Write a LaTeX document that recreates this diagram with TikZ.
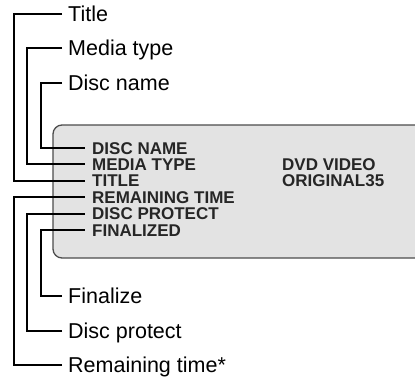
\documentclass[tikz,border=0pt]{standalone}
\usepackage{fontspec}
\setmainfont{Liberation Sans}
\usetikzlibrary{positioning}

\begin{document}
\begin{tikzpicture}[
    x=1pt, y=-1pt,
    callout/.style={anchor=west, inner xsep=6pt, inner ysep=0pt, font=\fontsize{21.5}{25}\selectfont, text height=15.4pt, text depth=0pt},
    menuitem/.style={anchor=west, inner xsep=7pt, inner ysep=0pt, font=\fontsize{17}{20}\selectfont\bfseries, text height=12.2pt, text depth=0pt, text=black!85},
    lead/.style={line width=2pt, black},
    screen/.style={draw=black!70, line width=1.3pt, fill=gray!22, rounded corners=9pt}
]

\useasboundingbox (0,0) rectangle (415,381);

% === Display screen ===
\draw[screen] (53,125) rectangle (430,258);

% === Menu entries on screen ===
\node[menuitem] (dName) at (85,148) {DISC NAME};
\node[menuitem] (dMedia) at (85,164.4) {MEDIA TYPE};
\node[menuitem] (dTitle) at (85,180.8) {TITLE};
\node[menuitem] (dRemain) at (85,197.2) {REMAINING TIME};
\node[menuitem] (dProtect) at (85,213.6) {DISC PROTECT};
\node[menuitem] (dFinal) at (85,230) {FINALIZED};

\node[menuitem, inner xsep=0pt] (vMedia) at (282,164.4) {DVD VIDEO};
\node[menuitem, inner xsep=0pt] (vTitle) at (282,180.8) {ORIGINAL35};

% === Callouts ===
\node[callout] (lTitle) at (62,14) {Title};
\node[callout] (lMedia) at (62,48) {Media type};
\node[callout] (lName) at (62,83) {Disc name};
\node[callout] (lFinal) at (62,296) {Finalize};
\node[callout] (lProtect) at (62,331) {Disc protect};
\node[callout] (lRemain) at (62,365) {Remaining time*};

% === Leader lines ===
\draw[lead] (lTitle.west) -- ++(-48,0) |- (dTitle.west);
\draw[lead] (lMedia.west) -- ++(-35,0) |- (dMedia.west);
\draw[lead] (lName.west) -- ++(-21,0) |- (dName.west);
\draw[lead] (lRemain.west) -- ++(-48,0) |- (dRemain.west);
\draw[lead] (lProtect.west) -- ++(-35,0) |- (dProtect.west);
\draw[lead] (lFinal.west) -- ++(-21,0) |- (dFinal.west);

\end{tikzpicture}
\end{document}
